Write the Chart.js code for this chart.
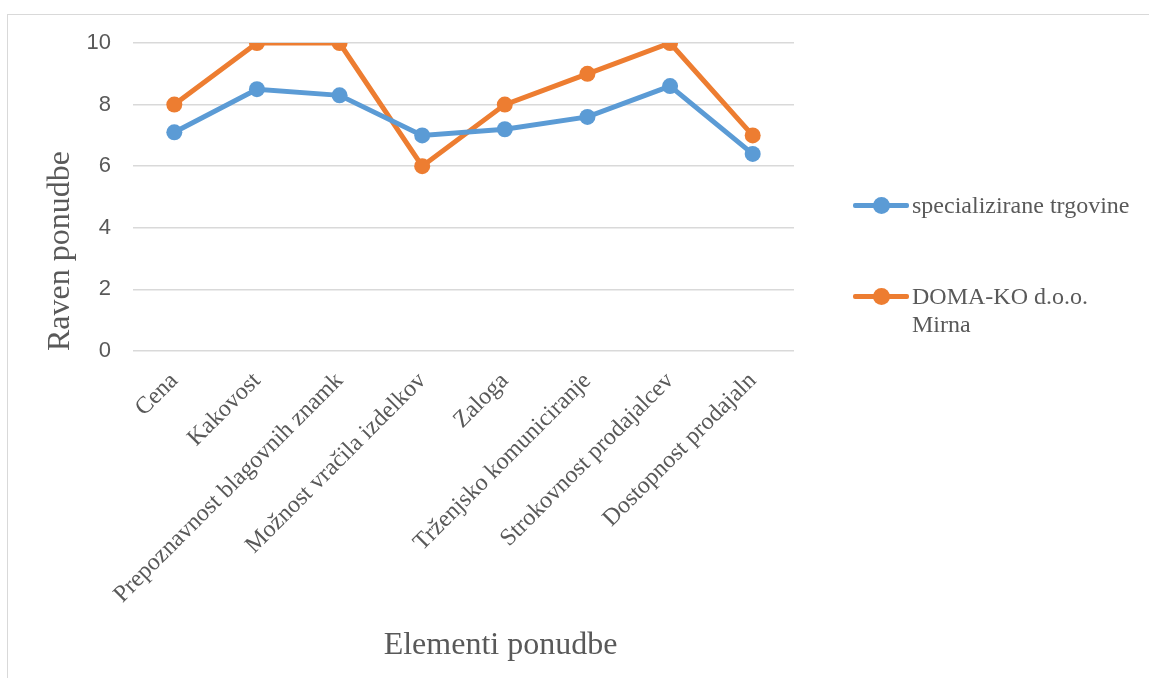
<!DOCTYPE html>
<html>
<head>
<meta charset="utf-8">
<script src="https://cdn.jsdelivr.net/npm/chart.js@4.4.1/dist/chart.umd.min.js"></script>
<style>
    html, body { margin: 0; padding: 0; background: #fff; }
    .wrap { position: relative; width: 1149px; height: 678px; overflow: hidden; }
    .frame { position: absolute; left: 7px; top: 14px; width: 1200px; height: 700px; border-left: 1px solid #d9d9d9; border-top: 1px solid #d9d9d9; }
    canvas { position: absolute; left: 0; top: 0; }
    .legend { position: absolute; left: 853px; top: 0; font-family: "Liberation Serif", "Times New Roman", serif; font-size: 24px; color: #595959; }
    .legend .item { position: absolute; left: 0; display: flex; align-items: flex-start; white-space: nowrap; }
    .legend .mark { position: relative; width: 56px; height: 28px; flex: none; }
    .legend .mark .ln { position: absolute; left: 0; right: 0; top: 12px; height: 5px; border-radius: 2px; }
    .legend .mark .dot { position: absolute; left: 20px; top: 6px; width: 17px; height: 17px; border-radius: 50%; }
    .legend .txt { line-height: 28px; padding-left: 3px; }
</style>
</head>
<body>
<div class="wrap">
    <div class="frame"></div>
    <canvas id="offerChart" width="1149" height="678"></canvas>
    <div class="legend" id="legend"></div>
</div>
<script>
// Data
const categories = ['Cena', 'Kakovost', 'Prepoznavnost blagovnih znamk', 'Možnost vračila izdelkov',
    'Zaloga', 'Trženjsko komuniciranje', 'Strokovnost prodajalcev', 'Dostopnost prodajaln'];
const specializiraneTrgovine = [7.1, 8.5, 8.3, 7.0, 7.2, 7.6, 8.6, 6.4];
const domaKo = [8, 10, 10, 6, 8, 9, 10, 7];
const seriesNames = ['specializirane trgovine', ['DOMA-KO d.o.o.', 'Mirna']];
const yTicks = [0, 2, 4, 6, 8, 10];

const blue = '#5b9bd5';
const orange = '#ed7d31';
const grey = '#595959';
const serif = '"Liberation Serif", "Times New Roman", serif';

// x axis title sits a bit right of the plot centre in the original
const xTitle = {
    id: 'xTitle',
    afterDraw(chart) {
        const c = chart.ctx;
        const area = chart.chartArea;
        c.save();
        c.font = '32px ' + serif;
        c.fillStyle = grey;
        c.textAlign = 'center';
        c.textBaseline = 'middle';
        c.fillText('Elementi ponudbe', (area.left + area.right) / 2 + 37, 646);
        c.restore();
    }
};

const ctx = document.getElementById('offerChart').getContext('2d');
const offerChart = new Chart(ctx, {
    type: 'line',
    data: {
        labels: categories,
        datasets: [{
            label: 'specializirane trgovine',
            data: specializiraneTrgovine,
            borderColor: blue,
            backgroundColor: blue,
            borderWidth: 5,
            pointRadius: 8,
            pointHoverRadius: 8,
            pointBorderWidth: 0,
            tension: 0
        }, {
            label: 'DOMA-KO d.o.o. Mirna',
            data: domaKo,
            borderColor: orange,
            backgroundColor: orange,
            borderWidth: 5,
            pointRadius: 8,
            pointHoverRadius: 8,
            pointBorderWidth: 0,
            tension: 0
        }]
    },
    options: {
        responsive: false,
        animation: false,
        layout: { padding: { left: 8, top: 43, right: 355, bottom: 0 } },
        plugins: {
            legend: { display: false },
            tooltip: { enabled: false }
        },
        scales: {
            x: {
                offset: true,
                grid: { display: false },
                border: { display: false },
                ticks: {
                    color: grey,
                    font: { family: serif, size: 24 },
                    minRotation: 45,
                    maxRotation: 45,
                    autoSkip: false,
                    padding: 8
                },
                afterFit: (scale) => { scale.height = 327; }
            },
            y: {
                min: 0,
                max: 10,
                afterBuildTicks: (scale) => { scale.ticks = yTicks.map(v => ({ value: v })); },
                grid: { color: '#d9d9d9', lineWidth: 1.5, drawTicks: false },
                border: { display: false },
                ticks: {
                    color: grey,
                    font: { family: '"Liberation Sans", "Open Sans", sans-serif', size: 22 },
                    padding: 22
                },
                title: {
                    display: true,
                    text: 'Raven ponudbe',
                    align: 'start',
                    color: grey,
                    font: { family: serif, size: 32 },
                    padding: { top: 33, bottom: 0 }
                },
                afterFit: (scale) => { scale.width = 125; }
            }
        }
    },
    plugins: [xTitle]
});

// Legend (right side, as in the original)
const legend = document.getElementById('legend');
const legendTops = [191, 282];
offerChart.data.datasets.forEach((ds, i) => {
    const item = document.createElement('div');
    item.className = 'item';
    item.style.top = legendTops[i] + 'px';
    const name = [].concat(seriesNames[i]).join('<br>');
    item.innerHTML = '<div class="mark"><div class="ln" style="background:' + ds.borderColor + '"></div>' +
        '<div class="dot" style="background:' + ds.borderColor + '"></div></div>' +
        '<div class="txt">' + name + '</div>';
    legend.appendChild(item);
});
</script>
</body>
</html>
